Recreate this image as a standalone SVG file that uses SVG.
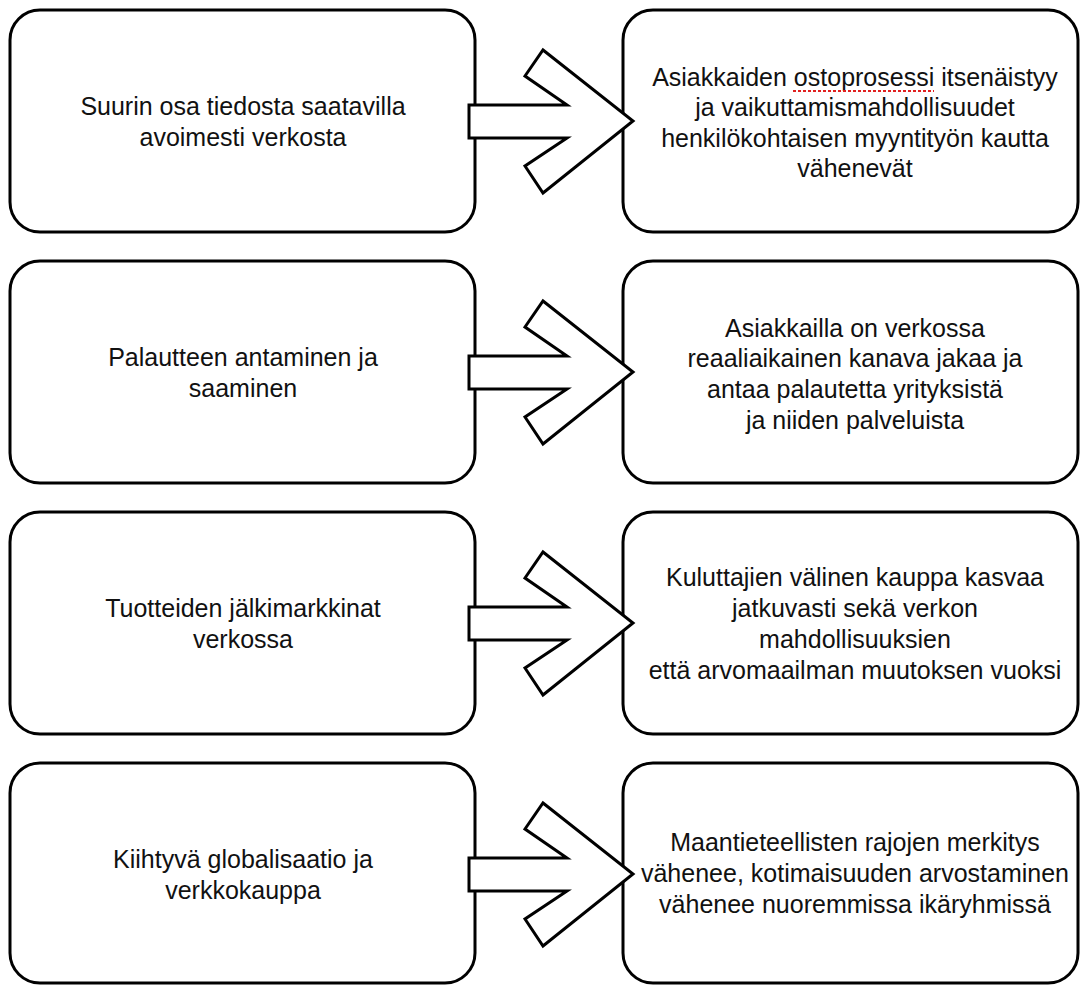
<svg xmlns="http://www.w3.org/2000/svg" width="1080" height="985" viewBox="0 0 1080 985">
<style>
.box{fill:#fff;stroke:#000;stroke-width:3}
.arr{fill:#fff;stroke:#000;stroke-width:3;stroke-linejoin:miter}
text{font-family:"Liberation Sans",Arial,sans-serif;font-size:25px;fill:#111;text-anchor:middle}
.spell{stroke:#e02020;stroke-width:2;stroke-dasharray:3 2}
</style>
<defs>
<polygon id="arrow" class="arr" points="469,105 567,105 525,76 543,50 633,121 543,193 525,166 567,138 469,138"/>
</defs>
<g id="n1">
<rect class="box" x="10" y="10" width="465" height="222" rx="30"/>
<text x="243" y="115">Suurin osa tiedosta saatavilla</text>
<text x="243" y="146">avoimesti verkosta</text>
</g>
<g id="n2">
<rect class="box" x="623" y="10" width="455" height="222" rx="30"/>
<text x="855" y="86">Asiakkaiden ostoprosessi itsenäistyy</text>
<text x="855" y="116">ja vaikuttamismahdollisuudet</text>
<text x="855" y="147">henkilökohtaisen myyntityön kautta</text>
<text x="855" y="177">vähenevät</text>
<line class="spell" x1="793" y1="91" x2="934" y2="91"/>
</g>
<g id="n3">
<rect class="box" x="10" y="261" width="465" height="222" rx="30"/>
<text x="243" y="366">Palautteen antaminen ja</text>
<text x="243" y="397">saaminen</text>
</g>
<g id="n4">
<rect class="box" x="623" y="261" width="455" height="222" rx="30"/>
<text x="855" y="337">Asiakkailla on verkossa</text>
<text x="855" y="367">reaaliaikainen kanava jakaa ja</text>
<text x="855" y="398">antaa palautetta yrityksistä</text>
<text x="855" y="429">ja niiden palveluista</text>
</g>
<g id="n5">
<rect class="box" x="10" y="512" width="465" height="222" rx="30"/>
<text x="243" y="617">Tuotteiden jälkimarkkinat</text>
<text x="243" y="648">verkossa</text>
</g>
<g id="n6">
<rect class="box" x="623" y="512" width="455" height="222" rx="30"/>
<text x="855" y="586">Kuluttajien välinen kauppa kasvaa</text>
<text x="855" y="617">jatkuvasti sekä verkon</text>
<text x="855" y="648">mahdollisuuksien</text>
<text x="855" y="679">että arvomaailman muutoksen vuoksi</text>
</g>
<g id="n7">
<rect class="box" x="10" y="763" width="465" height="220" rx="30"/>
<text x="243" y="868">Kiihtyvä globalisaatio ja</text>
<text x="243" y="899">verkkokauppa</text>
</g>
<g id="n8">
<rect class="box" x="623" y="763" width="455" height="220" rx="30"/>
<text x="855" y="851">Maantieteellisten rajojen merkitys</text>
<text x="855" y="882">vähenee, kotimaisuuden arvostaminen</text>
<text x="855" y="913">vähenee nuoremmissa ikäryhmissä</text>
</g>
<g id="connectors">
<use href="#arrow"/>
<use href="#arrow" transform="translate(0,251)"/>
<use href="#arrow" transform="translate(0,502)"/>
<use href="#arrow" transform="translate(0,753)"/>
</g>
</svg>
